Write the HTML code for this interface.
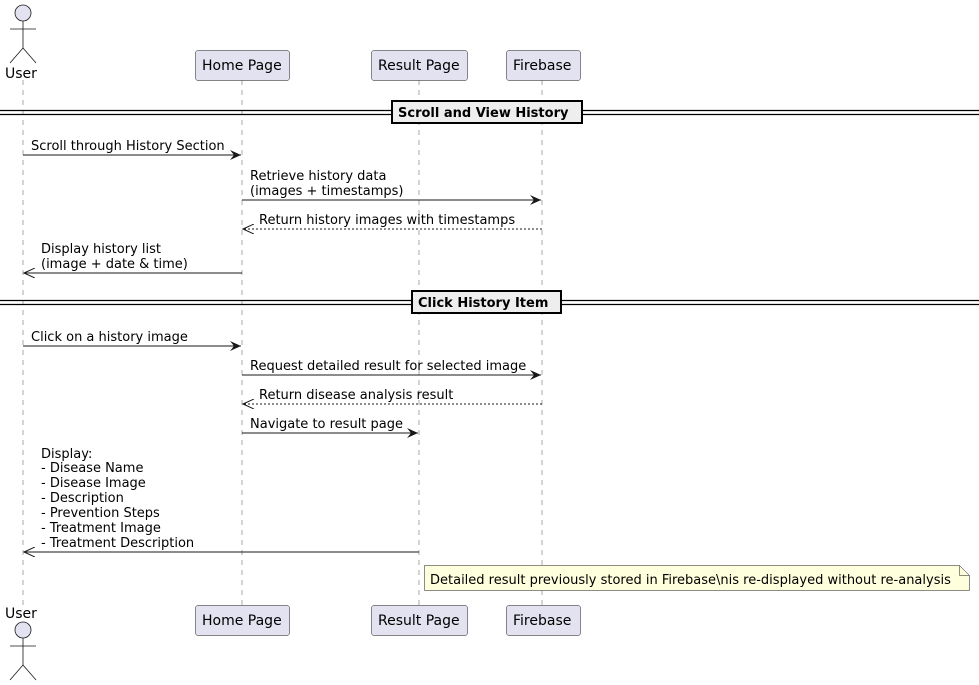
<!DOCTYPE html>
<html><head><style>
html,body{margin:0;padding:0;background:#fff;}
svg{display:block;}
text{font-family:"DejaVu Sans","Liberation Sans",sans-serif;font-size:13px;fill:#000;}
text.p{font-size:14px;}
</style></head><body>
<svg width="979" height="685" viewBox="0 0 979 685" xmlns="http://www.w3.org/2000/svg">
<defs>
<marker id="a" markerWidth="12" markerHeight="10" refX="11" refY="5" orient="auto" markerUnits="userSpaceOnUse">
<path d="M0,0 L11,5 L0,10 L4,5 Z" fill="#181818"/>
</marker>
<marker id="ao" markerWidth="12" markerHeight="10" refX="11" refY="5" orient="auto" markerUnits="userSpaceOnUse">
<path d="M0,0 L11,5 L0,10" fill="none" stroke="#181818" stroke-width="1"/>
</marker>
</defs>
<g stroke="#555" stroke-width="0.5" stroke-dasharray="5,5">
<line x1="23" y1="80" x2="23" y2="605"/>
<line x1="242" y1="80" x2="242" y2="605"/>
<line x1="419" y1="80" x2="419" y2="605"/>
<line x1="542" y1="80" x2="542" y2="605"/>
</g>
<g stroke="#181818" stroke-width="0.8" fill="none">
<circle cx="23" cy="13" r="8" fill="#E2E2F0"/>
<line x1="23" y1="21" x2="23" y2="48"/><line x1="10" y1="29" x2="36" y2="29"/>
<line x1="23" y1="48" x2="10" y2="63"/><line x1="23" y1="48" x2="36" y2="63"/>
<circle cx="23" cy="630" r="8" fill="#E2E2F0"/>
<line x1="23" y1="638" x2="23" y2="665"/><line x1="10" y1="646" x2="36" y2="646"/>
<line x1="23" y1="665" x2="10" y2="680"/><line x1="23" y1="665" x2="36" y2="680"/>
</g>
<text class="p" x="5" y="78">User</text>
<text class="p" x="5" y="618">User</text>
<g fill="#E2E2F0" stroke="#181818" stroke-width="0.5">
<rect x="195.5" y="50.5" width="94" height="30" rx="2.5"/>
<rect x="371.5" y="50.5" width="96" height="30" rx="2.5"/>
<rect x="506.5" y="50.5" width="74" height="30" rx="2.5"/>
<rect x="195.5" y="605.5" width="94" height="30" rx="2.5"/>
<rect x="371.5" y="605.5" width="96" height="30" rx="2.5"/>
<rect x="506.5" y="605.5" width="74" height="30" rx="2.5"/>
</g>
<text class="p" x="202" y="70">Home Page</text><text class="p" x="378" y="70">Result Page</text><text class="p" x="513" y="70">Firebase</text>
<text class="p" x="202" y="625">Home Page</text><text class="p" x="378" y="625">Result Page</text><text class="p" x="513" y="625">Firebase</text>
<g stroke="#000" stroke-width="1.2">
<line x1="0" y1="110.5" x2="979" y2="110.5"/><line x1="0" y1="114.5" x2="979" y2="114.5"/>
<line x1="0" y1="300.5" x2="979" y2="300.5"/><line x1="0" y1="304.5" x2="979" y2="304.5"/>
</g>
<rect x="392" y="101" width="190" height="22" fill="#EEEEEE" stroke="#000" stroke-width="2"/>
<text x="398" y="117" style="font-weight:bold">Scroll and View History</text>
<rect x="412" y="291" width="149" height="22" fill="#EEEEEE" stroke="#000" stroke-width="2"/>
<text x="418" y="307" style="font-weight:bold">Click History Item</text>
<g stroke="#181818" stroke-width="1">
<line x1="23" y1="155" x2="241" y2="155" marker-end="url(#a)"/>
<line x1="242" y1="200" x2="541" y2="200" marker-end="url(#a)"/>
<line x1="542" y1="229" x2="243" y2="229" stroke-dasharray="2,2" marker-end="url(#ao)"/>
<line x1="242" y1="273" x2="24" y2="273" marker-end="url(#ao)"/>
<line x1="23" y1="346" x2="241" y2="346" marker-end="url(#a)"/>
<line x1="242" y1="375" x2="541" y2="375" marker-end="url(#a)"/>
<line x1="542" y1="404" x2="243" y2="404" stroke-dasharray="2,2" marker-end="url(#ao)"/>
<line x1="242" y1="433" x2="418" y2="433" marker-end="url(#a)"/>
<line x1="419" y1="552" x2="24" y2="552" marker-end="url(#ao)"/>
</g>
<text x="31" y="150">Scroll through History Section</text>
<text x="250" y="180">Retrieve history data</text>
<text x="250" y="195">(images + timestamps)</text>
<text x="259" y="224">Return history images with timestamps</text>
<text x="41" y="253">Display history list</text>
<text x="41" y="268">(image + date &amp; time)</text>
<text x="31" y="341">Click on a history image</text>
<text x="250" y="370">Request detailed result for selected image</text>
<text x="259" y="399">Return disease analysis result</text>
<text x="250" y="428">Navigate to result page</text>
<text x="41" y="458">Display:</text>
<text x="41" y="472">- Disease Name</text>
<text x="41" y="487">- Disease Image</text>
<text x="41" y="502">- Description</text>
<text x="41" y="517">- Prevention Steps</text>
<text x="41" y="532">- Treatment Image</text>
<text x="41" y="547">- Treatment Description</text>
<path d="M424.5,565.5 L959.5,565.5 L969.5,575.5 L969.5,590.5 L424.5,590.5 Z" fill="#FEFFDD" stroke="#181818" stroke-width="0.5"/>
<path d="M959.5,565.5 L959.5,575.5 L969.5,575.5" fill="none" stroke="#181818" stroke-width="0.5"/>
<text x="430" y="584">Detailed result previously stored in Firebase\nis re-displayed without re-analysis</text>
</svg>
</body></html>
